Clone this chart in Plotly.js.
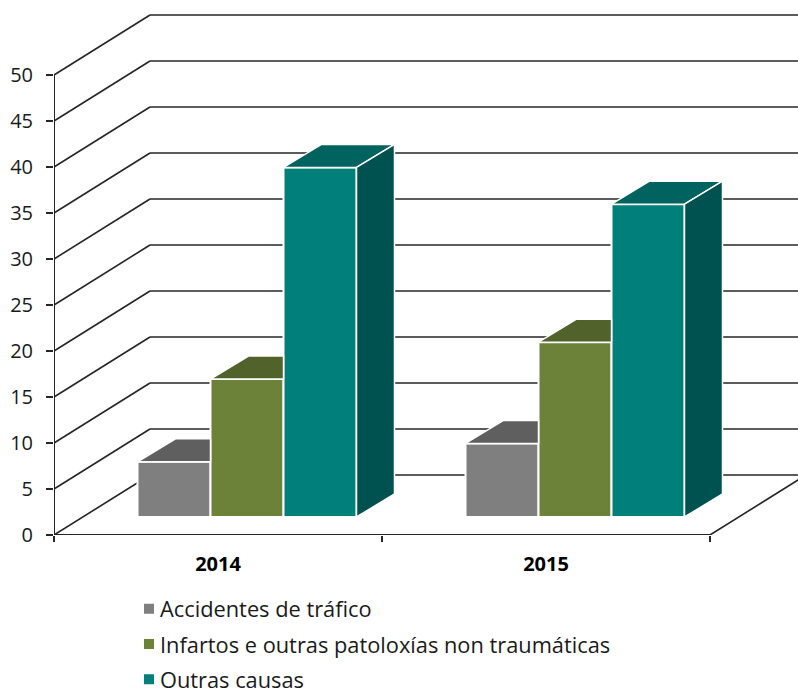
<!DOCTYPE html>
<html>
<head>
<meta charset="utf-8">
<script src="https://cdn.plot.ly/plotly-3.0.1.min.js"></script>
<style>html,body{margin:0;padding:0;background:#fff}</style>
</head>
<body>
<div id="chart" style="width:798px;height:692px"></div>
<script>
// --- data ---
const categories = ['2014', '2015'];
const seriesNames = ['Accidentes de tráfico', 'Infartos e outras patoloxías non traumáticas', 'Outras causas'];
const accidentes = [6, 8];
const infartos = [15, 19];
const outras = [38, 34];
const yTicks = [0, 5, 10, 15, 20, 25, 30, 35, 40, 45, 50];

// --- colours: front, top, side ---
const frontColors = ['#7f7f7f', '#6c8239', '#007f7b'];
const topColors = ['#5f5f5f', '#51622b', '#00635f'];
const sideColors = ['#4f4f4f', '#43511f', '#005250'];
const ink = '#262626';

// --- pseudo-3D projection, in axis units ---
const W = 798, H = 692;
const axisX = 54, axisY = 535, pxPerCat = 328, pxPerUnit = 9.2;
const wallDX = 96 / pxPerCat, wallDY = 60 / pxPerUnit;      // depth of the box
const barDX = 38 / pxPerCat, barDY = 23 / pxPerUnit;        // depth of a bar
const barW = 73 / pxPerCat, groupStart = 83.5 / pxPerCat;   // bar width and offset in a category
const barBase = 18 / pxPerUnit;                             // floor offset of the bars' front face
const xMax = (W - axisX) / pxPerCat, yMax = axisY / pxPerUnit;
const nCat = categories.length;

const allSeries = [accidentes, infartos, outras];
const traces = [];

// Front faces: real bars, with the legend
allSeries.forEach((vals, s) => {
  traces.push({
    type: 'bar', name: seriesNames[s], legendgroup: 'g' + s,
    x: categories.map((_, c) => c + groupStart + (s + 0.5) * barW),
    y: vals, base: vals.map(() => barBase), width: barW,
    marker: {color: frontColors[s], line: {color: '#ffffff', width: 2}},
    hoverinfo: 'name+y'
  });
});

// Top and side faces
allSeries.forEach((vals, s) => {
  const last = s === allSeries.length - 1;
  vals.forEach((v, c) => {
    const x0 = c + groupStart + s * barW, x1 = x0 + barW, t = v + barBase;
    const topX = last ? [x0, x1, x1 + barDX, x0 + barDX, x0] : [x0, x1, x1, x0 + barDX, x0];
    const topY = [t, t, t + barDY, t + barDY, t];
    traces.push({type: 'scatter', mode: 'lines', x: topX, y: topY, fill: 'toself',
      fillcolor: topColors[s], line: {color: '#ffffff', width: 1.5}, showlegend: false, hoverinfo: 'skip'});
    if (last) {
      traces.push({type: 'scatter', mode: 'lines',
        x: [x1, x1 + barDX, x1 + barDX, x1, x1],
        y: [barBase, barBase + barDY, t + barDY, t, barBase], fill: 'toself',
        fillcolor: sideColors[s], line: {color: '#ffffff', width: 1.5}, showlegend: false, hoverinfo: 'skip'});
    }
  });
});

// Front axis lines, unclipped so they keep their full width on the plot edge
traces.push({type: 'scatter', mode: 'lines', x: [0, 0], y: [yTicks[0], yTicks[yTicks.length - 1]],
  line: {color: ink, width: 2}, cliponaxis: false, showlegend: false, hoverinfo: 'skip'});
traces.push({type: 'scatter', mode: 'lines', x: [0, nCat], y: [0, 0],
  line: {color: ink, width: 2}, cliponaxis: false, showlegend: false, hoverinfo: 'skip'});

// Wall and floor grid, underneath the bars
const gridLine = (x0, y0, x1, y1) => ({type: 'line', layer: 'below', xref: 'x', yref: 'y',
  x0, y0, x1, y1, line: {color: ink, width: 1.6}});
const shapes = [];
yTicks.forEach(t => {
  shapes.push(gridLine(0, t, wallDX, t + wallDY));
  shapes.push(gridLine(wallDX, t + wallDY, xMax, t + wallDY));
});
shapes.push(gridLine(nCat, 0, nCat + wallDX, wallDY));

const layout = {
  width: W, height: H,
  margin: {l: axisX, r: 0, t: 0, b: H - axisY, pad: 0},
  paper_bgcolor: '#ffffff', plot_bgcolor: '#ffffff',
  font: {family: '"Open Sans", sans-serif', color: '#1a1a1a', size: 20},
  barmode: 'overlay', showlegend: true, shapes,
  xaxis: {
    range: [0, xMax], showgrid: false, zeroline: false, showline: false,
    tickmode: 'array', tickvals: categories.map((_, c) => c + 0.5), ticktext: categories,
    ticks: '', ticklabelstandoff: 15, tickfont: {size: 20, family: '"Open Sans", sans-serif', weight: 700, color: '#000000'},
    minor: {tickmode: 'array', tickvals: [0, 1, 2], ticks: 'outside', ticklen: 6, tickwidth: 1.5, tickcolor: ink, showgrid: false}
  },
  yaxis: {
    range: [0, yMax], showgrid: false, zeroline: false, showline: false,
    tickmode: 'array', tickvals: yTicks, ticks: 'outside', ticklen: 7, tickwidth: 1.5, tickcolor: ink,
    ticklabelstandoff: 9, tickfont: {size: 20, color: '#1a1a1a'}
  },
  legend: {
    xref: 'paper', yref: 'container',
    x: (120 - axisX) / (W - axisX), y: 1 - 588 / H, xanchor: 'left', yanchor: 'top',
    orientation: 'v', traceorder: 'grouped', tracegroupgap: 4, itemclick: false, itemdoubleclick: false,
    bgcolor: 'rgba(0,0,0,0)', font: {size: 21.8, color: '#1a1a1a'}
  }
};

Plotly.newPlot('chart', traces, layout, {displayModeBar: false, responsive: false}).then(() => {
  // The reference sets the swatches closer to the labels than Plotly's fixed gap.
  document.querySelectorAll('#chart .legendsymbols').forEach(el => el.setAttribute('transform', 'translate(9,0)'));
});
</script>
</body>
</html>
